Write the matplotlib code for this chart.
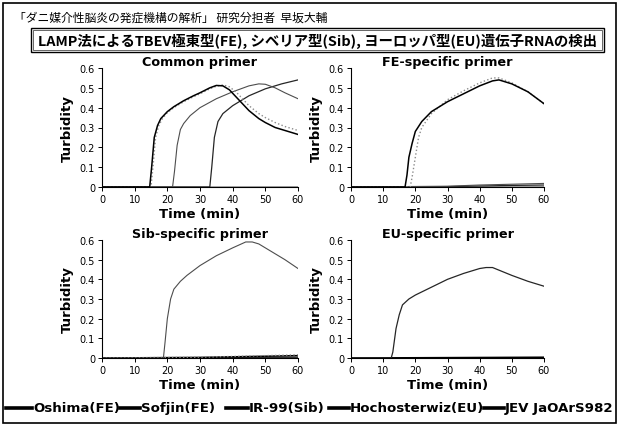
import matplotlib
matplotlib.use("Agg")
import matplotlib.pyplot as plt
from matplotlib.patches import Rectangle
from matplotlib.lines import Line2D

# --- data (time in min, turbidity) ---
# Common primer
cp_osh_t = [0, 14.6, 15.2, 16, 17, 18, 20, 22, 25, 28, 30, 33, 35, 37, 39, 41, 43, 45, 48, 50, 53, 56, 60]
cp_osh_v = [0, 0, 0.1, 0.25, 0.31, 0.345, 0.38, 0.405, 0.435, 0.46, 0.475, 0.5, 0.512, 0.51, 0.49, 0.455, 0.42, 0.385, 0.345, 0.325, 0.30, 0.285, 0.265]
cp_sof_t = [0, 15.0, 15.6, 16.4, 17.4, 18.5, 20, 22, 25, 28, 30, 33, 35, 37, 39, 41, 43, 45, 48, 50, 53, 56, 60]
cp_sof_v = [0, 0, 0.1, 0.25, 0.31, 0.345, 0.375, 0.4, 0.43, 0.455, 0.47, 0.495, 0.508, 0.515, 0.505, 0.48, 0.445, 0.41, 0.37, 0.35, 0.325, 0.305, 0.285]
cp_ir_t = [0, 21.6, 22.2, 23, 24, 25, 27, 30, 35, 40, 45, 48, 50, 53, 56, 60]
cp_ir_v = [0, 0, 0.08, 0.21, 0.29, 0.32, 0.36, 0.4, 0.445, 0.48, 0.51, 0.52, 0.518, 0.5, 0.475, 0.445]
cp_hoc_t = [0, 33.0, 33.6, 34.4, 35.5, 37, 40, 45, 50, 55, 60]
cp_hoc_v = [0, 0, 0.1, 0.25, 0.33, 0.37, 0.41, 0.46, 0.495, 0.52, 0.54]
cp_jev_t = [0, 60]
cp_jev_v = [0, 0.002]

# FE-specific primer
fe_osh_t = [0, 16.8, 17.4, 18, 19, 20, 22, 25, 30, 35, 40, 44, 46, 50, 55, 60]
fe_osh_v = [0, 0, 0.06, 0.15, 0.22, 0.28, 0.33, 0.38, 0.43, 0.47, 0.51, 0.535, 0.54, 0.52, 0.48, 0.42]
fe_sof_t = [0, 18.4, 19, 20, 21, 22, 25, 30, 35, 40, 44, 46, 50, 55, 60]
fe_sof_v = [0, 0, 0.05, 0.15, 0.25, 0.3, 0.37, 0.44, 0.485, 0.525, 0.55, 0.55, 0.525, 0.48, 0.42]
fe_ir_t = [0, 30, 40, 50, 60]
fe_ir_v = [0, 0.004, 0.01, 0.014, 0.018]
fe_hoc_t = [0, 30, 40, 50, 60]
fe_hoc_v = [0, 0.002, 0.005, 0.008, 0.01]
fe_jev_t = [0, 60]
fe_jev_v = [0, 0.002]

# Sib-specific primer
sb_ir_t = [0, 18.8, 19.3, 20, 21, 22, 24, 26, 30, 35, 40, 44, 46, 48, 52, 56, 60]
sb_ir_v = [0, 0, 0.08, 0.2, 0.3, 0.35, 0.39, 0.42, 0.47, 0.52, 0.56, 0.59, 0.59, 0.58, 0.54, 0.5, 0.455]
sb_osh_t = [0, 30, 40, 50, 60]
sb_osh_v = [0, 0.003, 0.006, 0.009, 0.012]
sb_sof_t = [0, 30, 40, 50, 60]
sb_sof_v = [0, 0.004, 0.008, 0.012, 0.016]
sb_hoc_t = [0, 60]
sb_hoc_v = [0, 0.004]
sb_jev_t = [0, 60]
sb_jev_v = [0, 0.002]

# EU-specific primer
eu_hoc_t = [0, 12.5, 13, 14, 15, 16, 18, 20, 25, 30, 35, 40, 42, 44, 47, 50, 55, 60]
eu_hoc_v = [0, 0, 0.03, 0.15, 0.22, 0.27, 0.3, 0.32, 0.36, 0.4, 0.43, 0.455, 0.46, 0.46, 0.44, 0.42, 0.39, 0.365]
eu_osh_t = [0, 60]
eu_osh_v = [0, 0.004]
eu_jev_t = [0, 60]
eu_jev_v = [0, 0.002]

strains = ["Oshima(FE)", "Sofjin(FE)", "IR-99(Sib)", "Hochosterwiz(EU)", "JEV JaOArS982"]
styles = {
    "Oshima(FE)": dict(color="black", lw=1.1, ls="-"),
    "Sofjin(FE)": dict(color="0.55", lw=1.0, ls=":"),
    "IR-99(Sib)": dict(color="0.3", lw=0.8, ls="-"),
    "Hochosterwiz(EU)": dict(color="0.15", lw=0.9, ls="-"),
    "JEV JaOArS982": dict(color="0.6", lw=0.8, ls="-"),
}

panels = [
    ("Common primer", [("JEV JaOArS982", cp_jev_t, cp_jev_v), ("Hochosterwiz(EU)", cp_hoc_t, cp_hoc_v),
                       ("IR-99(Sib)", cp_ir_t, cp_ir_v), ("Sofjin(FE)", cp_sof_t, cp_sof_v),
                       ("Oshima(FE)", cp_osh_t, cp_osh_v)]),
    ("FE-specific primer", [("JEV JaOArS982", fe_jev_t, fe_jev_v), ("Hochosterwiz(EU)", fe_hoc_t, fe_hoc_v),
                            ("IR-99(Sib)", fe_ir_t, fe_ir_v), ("Sofjin(FE)", fe_sof_t, fe_sof_v),
                            ("Oshima(FE)", fe_osh_t, fe_osh_v)]),
    ("Sib-specific primer", [("JEV JaOArS982", sb_jev_t, sb_jev_v), ("Hochosterwiz(EU)", sb_hoc_t, sb_hoc_v),
                             ("Oshima(FE)", sb_osh_t, sb_osh_v), ("Sofjin(FE)", sb_sof_t, sb_sof_v),
                             ("IR-99(Sib)", sb_ir_t, sb_ir_v)]),
    ("EU-specific primer", [("JEV JaOArS982", eu_jev_t, eu_jev_v), ("Oshima(FE)", eu_osh_t, eu_osh_v),
                            ("Hochosterwiz(EU)", eu_hoc_t, eu_hoc_v)]),
]

W, H = 620, 427
JP = ["Noto Sans CJK JP", "DejaVu Sans"]
fig = plt.figure(figsize=(W / 100, H / 100), dpi=100)

# outer frame and headers
fig.patches.append(Rectangle((3 / W, 3 / H), 613 / W, 420 / H, transform=fig.transFigure,
                             fill=False, lw=1.2, ec="black"))
fig.text(14 / W, 1 - 18 / H, "「ダニ媒介性脳炎の発症機構の解析」 研究分担者  早坂大輔",
         family=JP, fontsize=8.5, va="center", ha="left")
fig.patches.append(Rectangle((31 / W, 1 - 53 / H), 573 / W, 24 / H, transform=fig.transFigure,
                             fill=False, lw=1.0, ec="black"))
fig.patches.append(Rectangle((33 / W, 1 - 51 / H), 569 / W, 20 / H, transform=fig.transFigure,
                             fill=False, lw=0.6, ec="0.3"))
fig.text(318 / W, 1 - 41 / H, "LAMP法によるTBEV極東型(FE), シベリア型(Sib), ヨーロッパ型(EU)遺伝子RNAの検出",
         family=JP, fontsize=10.4, fontweight="bold", va="center", ha="center")

boxes = [(102, 69, 298, 188), (351, 69, 544, 188), (102, 241, 298, 359), (351, 241, 544, 359)]

for (title, series), (x0, y0, x1, y1) in zip(panels, boxes):
    ax = fig.add_axes([x0 / W, 1 - y1 / H, (x1 - x0) / W, (y1 - y0) / H])
    for name, t, v in series:
        ax.plot(t, v, **styles[name])
    ax.set_xlim(0, 60)
    ax.set_ylim(0, 0.6)
    ax.set_xticks(range(0, 61, 10))
    ax.set_yticks([0, 0.1, 0.2, 0.3, 0.4, 0.5, 0.6])
    ax.set_yticklabels(["0", "0.1", "0.2", "0.3", "0.4", "0.5", "0.6"])
    ax.spines["top"].set_visible(False)
    ax.spines["right"].set_visible(False)
    for s in ("left", "bottom"):
        ax.spines[s].set_linewidth(0.8)
    ax.tick_params(labelsize=7, length=3, width=0.7, pad=2)
    ax.set_title(title, fontsize=9.2, fontweight="bold", pad=0)
    ax.set_ylabel("Turbidity", fontsize=9.5, fontweight="bold", labelpad=4)
    ax.set_xlabel("Time (min)", fontsize=9.5, fontweight="bold", labelpad=2)

# legend row laid out left to right, like the reference
leg_y = 1 - 409 / H
line_len = [26, 20, 22, 20, 20]
gap_after = [0, 11, 4, 0, 0]
renderer = fig.canvas.get_renderer()
x = 6
for name, ll, gap in zip(strains, line_len, gap_after):
    fig.lines.append(Line2D([x / W, (x + ll) / W], [leg_y, leg_y], transform=fig.transFigure,
                            color="black", lw=2.6))
    x += ll + 1
    txt = fig.text(x / W, leg_y, name, fontsize=9.6, fontweight="bold", va="center", ha="left")
    x += txt.get_window_extent(renderer).width + gap

fig.savefig("out.png", dpi=100)
